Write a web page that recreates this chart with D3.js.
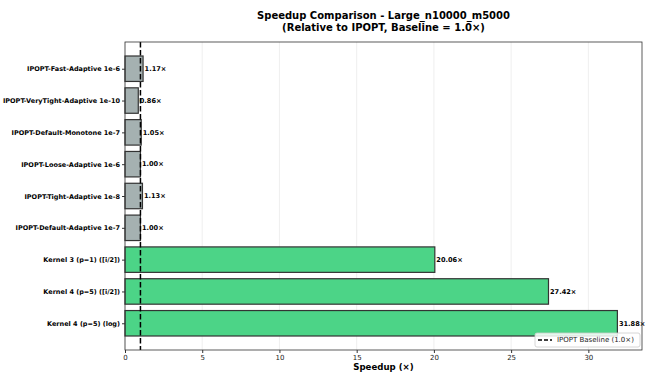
<!DOCTYPE html>
<html><head><meta charset="utf-8">
<script src="https://cdn.jsdelivr.net/npm/d3@7"></script>
<style>body{margin:0;background:#fff;font-family:"DejaVu Sans",sans-serif;}</style>
</head><body><svg id="c" width="652" height="377"></svg>
<script>
const categories = ["IPOPT-Fast-Adaptive 1e-6","IPOPT-VeryTight-Adaptive 1e-10","IPOPT-Default-Monotone 1e-7","IPOPT-Loose-Adaptive 1e-6","IPOPT-Tight-Adaptive 1e-8","IPOPT-Default-Adaptive 1e-7","Kernel 3 (p=1) ([i/2])","Kernel 4 (p=5) ([i/2])","Kernel 4 (p=5) (log)"];
const speedups = [1.17,0.86,1.05,1.00,1.13,1.00,20.06,27.42,31.88];
const groups = ["ipopt","ipopt","ipopt","ipopt","ipopt","ipopt","kernel","kernel","kernel"];
const xTicks = [0,5,10,15,20,25,30];
const baseline = 1.0;

const svg = d3.select("#c");
const L=125,R=642,T=42,B=350;
const x = d3.scaleLinear().domain([0, d3.max(speedups)*1.05]).range([L,R]);
const n = categories.length;
const y = d3.scaleLinear().domain([-0.84, n-1+0.84]).range([T,B]);
const bh = 0.8*(y(1)-y(0));
const color = {ipopt:"#a5b1b1", kernel:"#4cd487"};

// grid
svg.append("g").selectAll("line").data(xTicks).join("line")
  .attr("x1",d=>x(d)).attr("x2",d=>x(d)).attr("y1",T).attr("y2",B)
  .attr("stroke","#ebebeb").attr("stroke-width",0.8);

// bars
svg.append("g").selectAll("rect").data(speedups).join("rect")
  .attr("x",x(0)).attr("y",(d,i)=>y(i)-bh/2)
  .attr("width",d=>x(d)-x(0)).attr("height",bh)
  .attr("fill",(d,i)=>color[groups[i]])
  .attr("stroke","#333").attr("stroke-width",1.2);

// value labels
svg.append("g").selectAll("text").data(speedups).join("text")
  .attr("x",d=>x(d)+1.5).attr("y",(d,i)=>y(i)).attr("dy","0.35em")
  .attr("font-size",6.6).attr("font-weight","bold").attr("fill","#000")
  .text(d=>d.toFixed(2)+"×");

// baseline
svg.append("line").attr("x1",x(baseline)).attr("x2",x(baseline)).attr("y1",T).attr("y2",B)
  .attr("stroke","#000").attr("stroke-width",1.5).attr("stroke-dasharray","5.5,2.5");

// frame
svg.append("rect").attr("x",L).attr("y",T).attr("width",R-L).attr("height",B-T)
  .attr("fill","none").attr("stroke","#333").attr("stroke-width",0.8);

// x axis
const xa = svg.append("g").attr("transform",`translate(0,${B})`)
  .call(d3.axisBottom(x).tickValues(xTicks).tickSize(3).tickPadding(2));
xa.select(".domain").remove();
xa.selectAll("text").attr("font-size",7).attr("font-family","DejaVu Sans").attr("fill","#222");
xa.selectAll("line").attr("stroke","#333");

// y axis
const ya = svg.append("g").attr("transform",`translate(${L},0)`)
  .call(d3.axisLeft(y).tickValues(d3.range(n)).tickFormat(i=>categories[i]).tickSize(3).tickPadding(2));
ya.select(".domain").remove();
ya.selectAll("text").attr("font-size",6.5).attr("font-weight","bold").attr("font-family","DejaVu Sans").attr("fill","#000");
ya.selectAll("line").attr("stroke","#333");

// x label
svg.append("text").attr("x",(L+R)/2).attr("y",370).attr("text-anchor","middle")
  .attr("font-size",8.6).attr("font-weight","bold").text("Speedup (×)");

// title
const title = svg.append("text").attr("text-anchor","middle").attr("font-size",10).attr("font-weight","bold");
title.append("tspan").attr("x",(L+R)/2).attr("y",19).text("Speedup Comparison - Large_n10000_m5000");
title.append("tspan").attr("x",(L+R)/2).attr("y",31).text("(Relative to IPOPT, Baseline = 1.0×)");

// legend
const lg = svg.append("g").attr("transform","translate(535,333)");
lg.append("rect").attr("width",105).attr("height",14).attr("fill","#fff").attr("fill-opacity",0.85)
  .attr("stroke","#ccc").attr("stroke-width",0.8).attr("rx",2);
lg.append("line").attr("x1",3).attr("x2",17).attr("y1",7).attr("y2",7)
  .attr("stroke","#000").attr("stroke-width",1.5).attr("stroke-dasharray","4,2");
lg.append("text").attr("x",22).attr("y",7).attr("dy","0.35em").attr("font-size",7).attr("fill","#222")
  .text("IPOPT Baseline (1.0×)");
</script></body></html>
